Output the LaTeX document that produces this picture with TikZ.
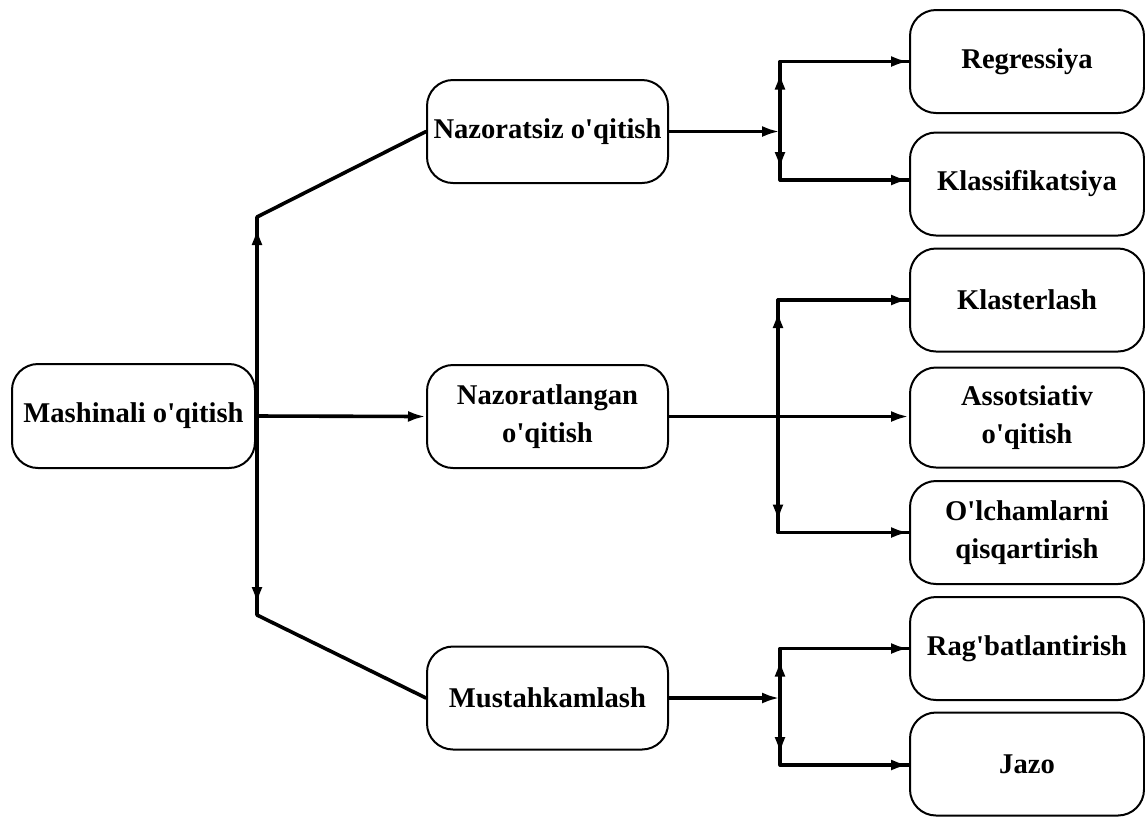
\documentclass[tikz,border=0pt]{standalone}
\usepackage{fontspec}
\setmainfont{Liberation Serif}
\usetikzlibrary{arrows.meta}
\newcommand{\qs}{\textquotesingle}
\begin{document}
\begin{tikzpicture}[x=0.5pt,y=-0.5pt,
  box/.style={draw=black, line width=1pt, rounded corners=13pt, fill=white,
    minimum width=117pt, minimum height=51.5pt, align=center, inner sep=2pt,
    font=\fontsize{14.3}{19}\selectfont\bfseries},
  conn/.style={line width=1.8pt, line cap=round, line join=round},
  arr/.style={conn, -{Latex[length=9pt,width=5.5pt]}},
  tip/.style={line width=1.8pt, -{Latex[length=9pt,width=5.5pt]}}
]
\useasboundingbox (0,0) rectangle (1145,816);

% main nodes
\node[box, minimum width=121.5pt, minimum height=52pt] (M) at (133.5,416) {Mashinali o\qs qitish};
\node[box, minimum width=120.5pt] (N1) at (547.5,131.5) {Nazoratsiz o\qs qitish};
\node[box, minimum width=120.5pt] (N2) at (547.5,416.5) {Nazoratlangan\\o\qs qitish};
\node[box, minimum width=120.5pt] (N3) at (547.5,698) {Mustahkamlash};

% right nodes
\node[box] (R1) at (1027,61.5) {Regressiya};
\node[box] (R2) at (1027,184) {Klassifikatsiya};
\node[box] (R3) at (1027,300) {Klasterlash};
\node[box, minimum height=50pt] (R4) at (1027,417.5) {Assotsiativ\\o\qs qitish};
\node[box] (R5) at (1027,532.5) {O\qs lchamlarni\\qisqartirish};
\node[box] (R6) at (1027,648.5) {Rag\qs batlantirish};
\node[box] (R7) at (1027,764) {Jazo};

% coordinates
\coordinate (a1) at (257,217);
\coordinate (a2) at (257,615);
\coordinate (b0) at (780,131.5);
\coordinate (b1) at (780,61.5);
\coordinate (b2) at (780,180);
\coordinate (c1) at (778,300);
\coordinate (c2) at (778,532.5);
\coordinate (d0) at (780,698);
\coordinate (d1) at (780,648.5);
\coordinate (d2) at (780,765);

% left trunk
\draw[conn] (N1.west) -- (a1) -- (a2) -- (N3.west);
\draw[tip] ([yshift=-40]a1) -- ([yshift=-5]a1);
\draw[tip] ([yshift=40]a2) -- ([yshift=5]a2);
\draw[arr] (M.east) -- (N2.west);

% group 1
\draw[arr] (N1.east) -- (b0);
\draw[conn] (R1.west) -- (b1) -- (b2) -- (b2 -| R2.west);
\draw[tip] ([yshift=-40]b1) -- ([yshift=-5]b1);
\draw[tip] ([yshift=40]b2) -- ([yshift=5]b2);
\draw[arr] (b1) -- (R1.west);
\draw[arr] (b2) -- (b2 -| R2.west);

% group 2
\draw[arr] (N2.east) -- (N2.east -| R4.west);
\draw[conn] (R3.west) -- (c1) -- (c2) -- (R5.west);
\draw[tip] ([yshift=-40]c1) -- ([yshift=-5]c1);
\draw[tip] ([yshift=40]c2) -- ([yshift=5]c2);
\draw[arr] (c1) -- (R3.west);
\draw[arr] (c2) -- (R5.west);

% group 3
\draw[arr] (N3.east) -- (d0);
\draw[conn] (R6.west) -- (d1) -- (d2) -- (d2 -| R7.west);
\draw[tip] ([yshift=-40]d1) -- ([yshift=-5]d1);
\draw[tip] ([yshift=40]d2) -- ([yshift=5]d2);
\draw[arr] (d1) -- (R6.west);
\draw[arr] (d2) -- (d2 -| R7.west);
\end{tikzpicture}
\end{document}
